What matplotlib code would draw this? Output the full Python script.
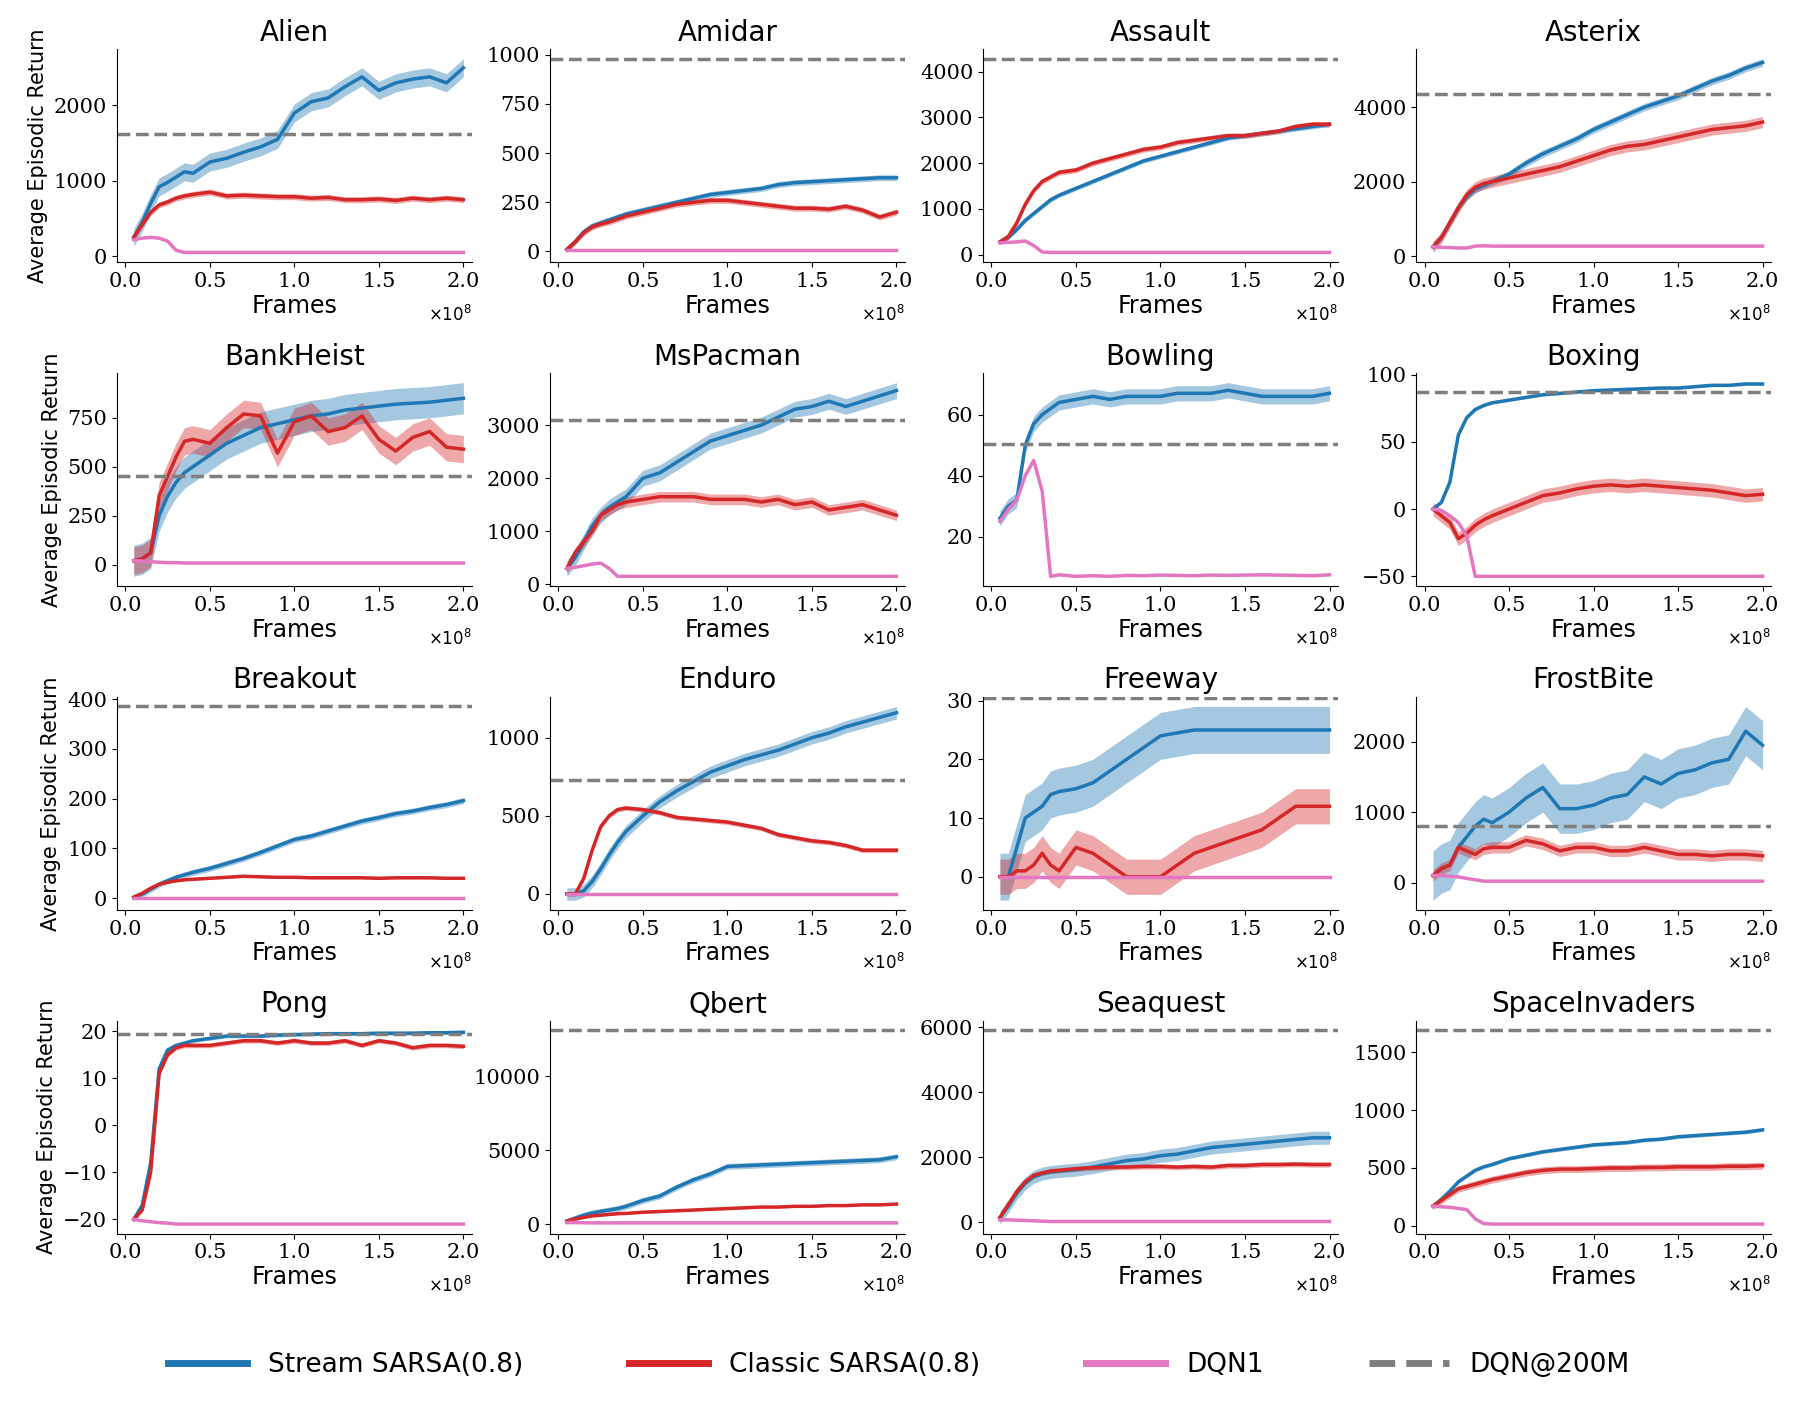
import matplotlib
matplotlib.use("Agg")
import matplotlib.pyplot as plt
import numpy as np

X = [0.05,0.1,0.15,0.2,0.25,0.3,0.35,0.4,0.5,0.6,0.7,0.8,0.9,1.0,1.1,1.2,1.3,1.4,1.5,1.6,1.7,1.8,1.9,2.0]
GAMES = ["Alien","Amidar","Assault","Asterix","BankHeist","MsPacman","Bowling","Boxing",
         "Breakout","Enduro","Freeway","FrostBite","Pong","Qbert","Seaquest","SpaceInvaders"]

STREAM = {
 "Alien":[250,450,700,920,980,1050,1120,1100,1250,1300,1380,1450,1550,1900,2050,2100,2250,2380,2200,2300,2350,2380,2300,2500],
 "Amidar":[10,50,100,130,145,160,175,190,210,230,250,270,290,300,310,320,340,350,355,360,365,370,375,375],
 "Assault":[280,380,550,750,900,1050,1200,1300,1450,1600,1750,1900,2050,2150,2250,2350,2450,2550,2600,2650,2700,2750,2800,2850],
 "Asterix":[250,500,900,1300,1600,1800,1900,2000,2200,2500,2750,2950,3150,3400,3600,3800,4000,4150,4300,4500,4700,4850,5050,5200],
 "BankHeist":[20,30,60,250,350,420,470,500,560,620,660,700,720,740,760,770,790,800,810,820,825,830,840,850],
 "MsPacman":[300,500,800,1100,1300,1450,1550,1650,2000,2100,2300,2500,2700,2800,2900,3000,3150,3300,3350,3450,3350,3450,3550,3650],
 "Bowling":[26,30,32,50,57,60,62,64,65,66,65,66,66,66,67,67,67,68,67,66,66,66,66,67],
 "Boxing":[0,5,20,55,68,74,77,79,81,83,85,86,87,88,88.5,89,89.5,90,90,91,92,92,93,93],
 "Breakout":[2,8,18,28,35,42,47,52,60,70,80,92,105,118,125,135,145,155,162,170,175,182,188,196],
 "Enduro":[0,0,20,80,160,250,330,400,500,590,660,720,780,820,860,890,920,960,1000,1030,1070,1100,1130,1160],
 "Freeway":[0,0,5,10,11,12,14,14.5,15,16,18,20,22,24,24.5,25,25,25,25,25,25,25,25,25],
 "FrostBite":[100,200,250,500,650,800,900,850,1000,1200,1350,1050,1050,1100,1200,1250,1500,1400,1550,1600,1700,1750,2150,1950],
 "Pong":[-20,-17,-8,12,16,17,17.5,18,18.5,19,19,19,19.2,19.3,19.4,19.5,19.5,19.5,19.6,19.6,19.6,19.7,19.7,19.8],
 "Qbert":[200,400,600,750,850,950,1050,1200,1600,1900,2500,3000,3400,3900,3950,4000,4050,4100,4150,4200,4250,4300,4350,4550],
 "Seaquest":[150,500,900,1200,1400,1500,1550,1580,1620,1700,1800,1900,1950,2050,2100,2200,2300,2350,2400,2450,2500,2550,2600,2600],
 "SpaceInvaders":[170,230,300,380,430,480,510,530,580,610,640,660,680,700,710,720,740,750,770,780,790,800,810,830],
}
CLASSIC = {
 "Alien":[250,420,580,680,720,770,800,820,850,800,810,800,790,790,770,780,750,750,760,740,770,750,770,750],
 "Amidar":[10,50,95,125,140,150,165,180,200,220,240,250,260,260,250,240,230,220,220,215,230,210,175,200],
 "Assault":[280,400,700,1100,1400,1600,1700,1800,1850,2000,2100,2200,2300,2350,2450,2500,2550,2600,2600,2650,2700,2800,2850,2850],
 "Asterix":[250,500,900,1300,1650,1850,1950,2000,2100,2200,2300,2400,2550,2700,2850,2950,3000,3100,3200,3300,3400,3450,3500,3600],
 "BankHeist":[20,30,60,350,450,550,630,640,620,700,770,760,570,730,760,680,700,760,640,580,650,680,600,590],
 "MsPacman":[300,600,800,1000,1300,1400,1500,1550,1600,1650,1650,1650,1600,1600,1600,1550,1600,1500,1550,1400,1450,1500,1400,1300],
 "Bowling":None,
 "Boxing":[0,-5,-10,-22,-18,-12,-8,-5,0,5,10,12,15,17,18,17,18,17,16,15,14,12,10,11],
 "Breakout":[2,10,20,28,32,35,37,38,40,42,44,43,42,42,41,41,41,41,40,41,41,41,40,40],
 "Enduro":[0,0,100,280,430,500,540,550,540,520,490,480,470,460,440,420,380,360,340,330,310,280,280,280],
 "Freeway":[0,0,1,1,2,4,2,1,5,4,2,0,0,0,2,4,5,6,7,8,10,12,12,12],
 "FrostBite":[100,200,250,500,450,400,480,500,500,600,550,450,500,500,450,450,500,450,400,400,380,400,400,380],
 "Pong":[-20,-18,-10,11,15,16.5,17,17,17,17.5,18,18,17.5,18,17.5,17.5,18,17,18,17.5,16.5,17,17,16.8],
 "Qbert":[200,350,450,550,600,650,700,720,800,850,900,950,1000,1050,1100,1150,1150,1200,1200,1250,1250,1300,1300,1350],
 "Seaquest":[150,550,950,1250,1450,1520,1580,1600,1650,1680,1700,1700,1720,1720,1700,1720,1700,1750,1750,1780,1780,1790,1780,1780],
 "SpaceInvaders":[170,220,270,320,340,360,380,400,430,460,480,490,490,495,500,500,505,505,510,510,510,515,515,520],
}
DQN1 = {
 "Alien":[220,240,250,240,200,80,50,50,50,50,50,50,50,50,50,50,50,50,50,50,50,50,50,50],
 "Amidar":[5]*24,
 "Assault":[260,270,280,300,200,60,50,50,50,50,50,50,50,50,50,50,50,50,50,50,50,50,50,50],
 "Asterix":[250,240,230,220,220,270,280,270,270,270,270,270,270,270,270,270,270,270,270,270,270,270,270,270],
 "BankHeist":[20,18,15,12,10,10,8,8,8,8,8,8,8,8,8,8,8,8,8,8,8,8,8,8],
 "MsPacman":[300,320,350,380,400,300,150,150,150,150,150,150,150,150,150,150,150,150,150,150,150,150,150,150],
 "Bowling":[25,29,32,40,45,35,7,7.5,7,7.2,7,7.3,7.2,7.4,7.3,7.2,7.4,7.3,7.4,7.5,7.4,7.3,7.2,7.5],
 "Boxing":[0,-1,-5,-10,-20,-50,-50,-50,-50,-50,-50,-50,-50,-50,-50,-50,-50,-50,-50,-50,-50,-50,-50,-50],
 "Breakout":[1]*24,
 "Enduro":[0]*24,
 "Freeway":[0]*24,
 "FrostBite":[100,100,90,80,60,40,20,20,20,20,20,20,20,20,20,20,20,20,20,20,20,20,20,20],
 "Pong":[-20,-20.3,-20.5,-20.7,-20.8,-21,-21,-21,-21,-21,-21,-21,-21,-21,-21,-21,-21,-21,-21,-21,-21,-21,-21,-21],
 "Qbert":[100,100,90,80,80,80,80,80,80,80,80,80,80,80,80,80,80,80,80,80,80,80,80,80],
 "Seaquest":[80,80,70,60,50,40,30,30,30,30,30,30,30,30,30,30,30,30,30,30,30,30,30,30],
 "SpaceInvaders":[170,165,160,150,140,60,20,15,15,15,15,15,15,15,15,15,15,15,15,15,15,15,15,15],
}
DQN200M = [1620,980,4280,4350,455,3100,50.5,87,385,730,30.5,800,19.5,13100,5900,1690]
STREAM_BAND = [120,15,50,100,80,150,2.5,1,6,40,4,350,0.4,200,200,15]
CLASSIC_BAND = [40,15,60,150,70,100,0,5,2,15,3,80,0.5,60,80,30]

BLUE, RED, PINK, GRAY = "#1f77b4", "#d62728", "#e377c2", "#7f7f7f"

fig, axes = plt.subplots(4, 4, figsize=(17.98, 14.02), dpi=100)
plt.subplots_adjust(left=0.065, right=0.985, top=0.965, bottom=0.12, hspace=0.52, wspace=0.22)
x = np.array(X)
for i, g in enumerate(GAMES):
    ax = axes.flat[i]
    s = np.array(STREAM[g], float)
    ax.fill_between(x, s - STREAM_BAND[i], s + STREAM_BAND[i], color=BLUE, alpha=0.4, lw=0)
    ax.plot(x, s, color=BLUE, lw=2.5)
    if CLASSIC[g] is not None:
        c = np.array(CLASSIC[g], float)
        ax.fill_between(x, c - CLASSIC_BAND[i], c + CLASSIC_BAND[i], color=RED, alpha=0.4, lw=0)
        ax.plot(x, c, color=RED, lw=2.5)
    ax.plot(x, DQN1[g], color=PINK, lw=2.5)
    ax.axhline(DQN200M[i], color=GRAY, ls="--", lw=2.5)
    ax.set_title(g, fontsize=20)
    ax.set_xlabel("Frames", fontsize=17, labelpad=2)
    ax.set_xticks([0.0, 0.5, 1.0, 1.5, 2.0])
    ax.set_xlim(-0.05, 2.05)
    ax.tick_params(labelsize=15)
    for lab in ax.get_xticklabels() + ax.get_yticklabels():
        lab.set_family("DejaVu Serif")
    ax.spines["top"].set_visible(False)
    ax.spines["right"].set_visible(False)
    ax.text(1.0, -0.2, r"$\times10^{8}$", transform=ax.transAxes, ha="right", va="top", fontsize=12)
    if i % 4 == 0:
        ax.set_ylabel("Average Episodic Return", fontsize=15)

from matplotlib.lines import Line2D
handles = [Line2D([], [], color=BLUE, lw=5), Line2D([], [], color=RED, lw=5),
           Line2D([], [], color=PINK, lw=5), Line2D([], [], color=GRAY, lw=5, ls="--")]
fig.legend(handles, ["Stream SARSA(0.8)", "Classic SARSA(0.8)", "DQN1", "DQN@200M"],
           loc="lower center", ncol=4, frameon=False, fontsize=19,
           bbox_to_anchor=(0.5, 0.0), handlelength=3, columnspacing=4)
fig.savefig("out.png", dpi=100)
